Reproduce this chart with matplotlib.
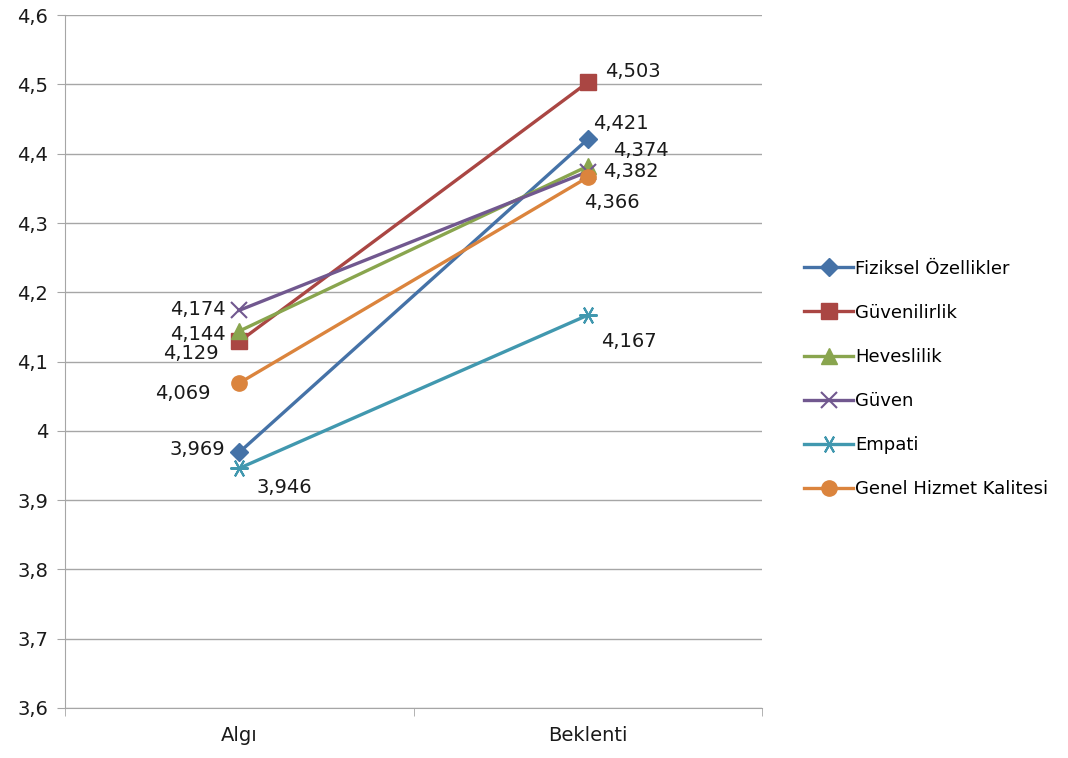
import matplotlib.pyplot as plt
from matplotlib.ticker import FixedLocator

categories = ["Algı", "Beklenti"]
series_names = ["Fiziksel Özellikler", "Güvenilirlik", "Heveslilik",
                "Güven", "Empati", "Genel Hizmet Kalitesi"]
fiziksel = [3.969, 4.421]
guvenilirlik = [4.129, 4.503]
heveslilik = [4.144, 4.382]
guven = [4.174, 4.374]
empati = [3.946, 4.167]
genel = [4.069, 4.366]
y_ticks = [3.6, 3.7, 3.8, 3.9, 4.0, 4.1, 4.2, 4.3, 4.4, 4.5, 4.6]

series = [fiziksel, guvenilirlik, heveslilik, guven, empati, genel]
colors = ["#4572A7", "#AA4643", "#89A54E", "#71588F", "#4198AF", "#DB843D"]
markers = ["D", "s", "^", "x", (6, 2, 90), "o"]
msizes = [9, 12, 11, 11, 13, 11]

# label offsets in pixels (Algı, Beklenti) for each series
offsets = [[(-42, 3), (33, 16)],
           [(-48, -12), (45, 11)],
           [(-41, -3), (43, -5)],
           [(-41, 1), (53, 21)],
           [(45, -19), (41, -26)],
           [(-56, -10), (24, -25)]]

plt.rcParams['font.family'] = ['DejaVu Sans']
fig = plt.figure(figsize=(10.68, 7.58), dpi=100)
ax = fig.add_axes([0.0609, 0.066, 0.6526, 0.914])

x = list(range(len(categories)))
for vals, name, c, m, ms, offs in zip(series, series_names, colors, markers, msizes, offsets):
    ax.plot(x, vals, color=c, lw=2.4, marker=m, ms=ms, mew=1.5 if m in ("x", (6, 2, 90)) else 1,
            mfc=c, mec=c, label=name, zorder=3)
    for xi, v, off in zip(x, vals, offs):
        ax.annotate(f"{v:.3f}".replace(".", ","), (xi, v), xytext=off,
                    textcoords="offset pixels", ha="center", va="center",
                    fontsize=14, color="#1a1a1a")

ax.set_xlim(-0.5, 1.5)
ax.set_ylim(3.6, 4.6)
ax.set_yticks(y_ticks)
ax.set_yticklabels([f"{t:g}".replace(".", ",") for t in y_ticks])
ax.yaxis.grid(True, color="#a6a6a6", lw=1)
ax.set_axisbelow(True)

ax.set_xticks(x)
ax.set_xticklabels(categories)
ax.xaxis.set_minor_locator(FixedLocator([-0.5, 0.5, 1.5]))
ax.tick_params(axis="x", which="major", length=0, pad=13, labelsize=14, colors="#1a1a1a")
ax.tick_params(axis="x", which="minor", length=6, color="#a6a6a6")
ax.tick_params(axis="y", length=6, color="#a6a6a6", labelsize=14, labelcolor="#1a1a1a", pad=6)

for s in ["top", "right"]:
    ax.spines[s].set_visible(False)
for s in ["left", "bottom"]:
    ax.spines[s].set_color("#a6a6a6")

fig.legend(loc="center left", bbox_to_anchor=(0.738, 0.5), frameon=False,
           fontsize=13, handlelength=2.7, handletextpad=0.12, labelspacing=1.45)

fig.savefig("out.png", dpi=100)
